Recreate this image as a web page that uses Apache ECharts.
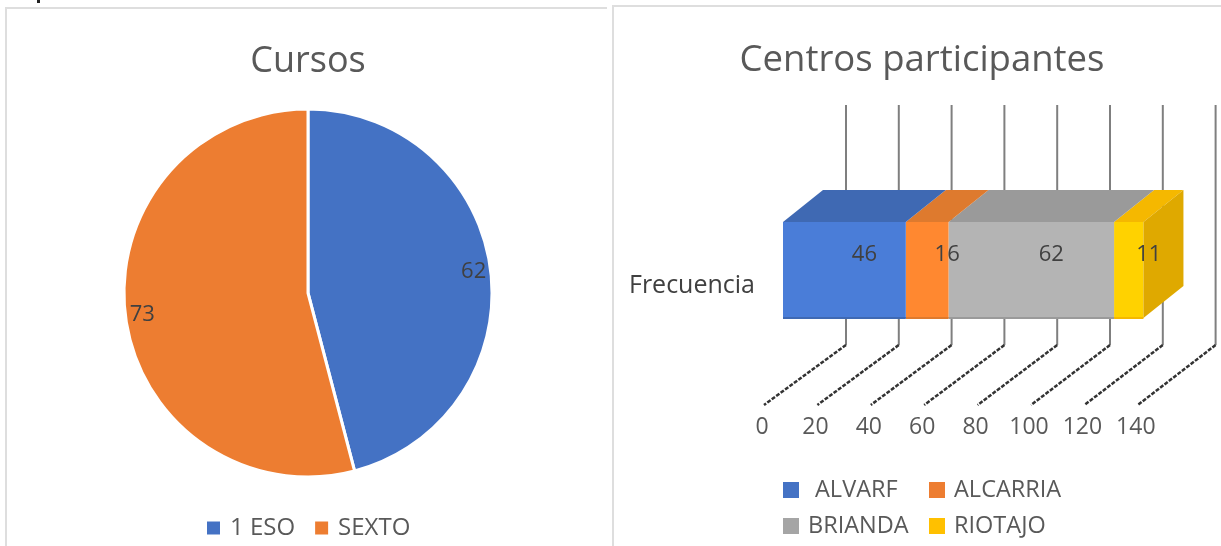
<!DOCTYPE html>
<html>
<head>
<meta charset="utf-8">
<style>html,body{margin:0;padding:0;background:#fff}#main{width:1221px;height:546px}</style>
<script src="https://cdn.jsdelivr.net/npm/echarts@6/dist/echarts.min.js"></script>
</head>
<body>
<div id="main"></div>
<script>
const cursos = ['1 ESO', 'SEXTO'];
const cursosValores = [62, 73];
const centros = ['ALVARF', 'ALCARRIA', 'BRIANDA', 'RIOTAJO'];
const centrosValores = [46, 16, 62, 11];
const categoria = ['Frecuencia'];
const ticks = [0, 20, 40, 60, 80, 100, 120, 140];

const FONT = '"Open Sans"';
const GREY = '#595959';
const colores = ['#4472c4', '#ed7d31', '#a5a5a5', '#ffc000'];
const frente = ['#4a7dd8', '#ff8830', '#b4b4b4', '#ffd200'];
const arriba = ['#3f69b3', '#de7a2e', '#9a9a9a', '#f5b800'];
const lado = '#dfa900';

// la barra 3D se dibuja a mano, los desplazamientos son respecto al eje
const FX = 21, DX = 40, DY = 32;

function renderRejilla(params, api) {
  const v = api.value(0);
  const p = api.coord([v, 0]);
  const x = p[0], c = p[1];
  const xp = x + 84 - v * 0.03;
  return {
    type: 'group',
    children: [
      { type: 'polyline', shape: { points: [[xp, c - 181], [xp, c + 59]] },
        style: { stroke: '#7f7f7f', lineWidth: 2, fill: null } },
      { type: 'line', shape: { x1: xp, y1: c + 59, x2: x + 2, y2: c + 119 },
        style: { stroke: '#333', lineWidth: 2.5, lineDash: [4, 1.5] } }
    ]
  };
}

function renderBloque(params, api) {
  const i = params.seriesIndex - 2;
  const a = api.coord([api.value(0), 0]);
  const b = api.coord([api.value(1), 0]);
  const x0 = a[0] + FX, x1 = b[0] + FX, c = a[1];
  const top = c - 64, bot = c + 32;
  const kids = [
    { type: 'polygon', shape: { points: [[x0, top], [x0 + DX, top - DY], [x1 + DX, top - DY], [x1, top]] },
      style: { fill: arriba[i] } },
    { type: 'rect', shape: { x: x0, y: top, width: x1 - x0, height: bot - top }, style: { fill: frente[i] } },
    { type: 'rect', shape: { x: x0, y: bot - 1, width: x1 - x0, height: 2 }, style: { fill: arriba[i] } }
  ];
  if (i === centros.length - 1) {
    kids.push({ type: 'polygon', shape: { points: [[x1, top], [x1 + DX, top - DY], [x1 + DX, bot - DY], [x1, bot]] },
      style: { fill: lado } });
  }
  kids.push({ type: 'text', style: {
    text: String(centrosValores[i]), x: (x0 + x1) / 2 + 20, y: c - 31,
    align: 'center', verticalAlign: 'middle', fill: '#404040', fontFamily: FONT, fontSize: 22
  } });
  return { type: 'group', children: kids };
}

let acumulado = 0;
const seriesCentros = centros.map(function (n, i) {
  const desde = acumulado;
  acumulado += centrosValores[i];
  return {
    name: n, type: 'custom', z: 8 - i, coordinateSystem: 'cartesian2d',
    renderItem: renderBloque,
    itemStyle: { color: colores[i] },
    encode: { x: [0, 1], y: 2 },
    data: [[desde, acumulado, categoria[0]]]
  };
});

function leyenda(items, left, top, orient, gap, lado, size) {
  return {
    data: items, left: left, top: top, orient: orient, itemGap: gap, padding: 0,
    icon: 'rect', itemWidth: lado, itemHeight: lado,
    textStyle: { color: GREY, fontFamily: FONT, fontSize: size, padding: [0, 0, 0, 4] }
  };
}

const chart = echarts.init(document.getElementById('main'));
chart.setOption({
  animation: false,
  backgroundColor: '#fff',
  title: [
    { text: 'Cursos', left: 303, top: 39, textAlign: 'center',
      textStyle: { color: GREY, fontFamily: FONT, fontSize: 36, fontWeight: 'normal' } },
    { text: 'Centros participantes', left: 917, top: 37, textAlign: 'center',
      textStyle: { color: GREY, fontFamily: FONT, fontSize: 36.5, fontWeight: 'normal' } }
  ],
  legend: [
    leyenda(cursos, 205, 516, 'horizontal', 18, 15, 24),
    leyenda([{ name: centros[0], textStyle: { padding: [0, 0, 0, 11] } }, centros[2]], 783, 478, 'vertical', 12, 16, 23.5),
    leyenda([centros[1], centros[3]], 929, 478, 'vertical', 12, 16, 23.5)
  ],
  grid: { left: 762, width: 373.8, top: 167, height: 238 },
  xAxis: {
    type: 'value', min: 0, max: 140, interval: 20,
    axisLine: { show: false }, axisTick: { show: false }, splitLine: { show: false },
    axisLabel: { color: GREY, fontFamily: FONT, fontSize: 23, margin: 11 }
  },
  yAxis: {
    type: 'category', data: categoria,
    axisLine: { show: false }, axisTick: { show: false },
    axisLabel: { color: '#404040', fontFamily: FONT, fontSize: 25, margin: 7, padding: [4, 0, 0, 0] }
  },
  graphic: [
    { type: 'polyline', shape: { points: [[6, 546], [6, 8], [607, 8]] }, style: { stroke: '#dedede', lineWidth: 2, fill: null } },
    { type: 'polyline', shape: { points: [[613, 546], [613, 6], [1221, 6]] }, style: { stroke: '#dedede', lineWidth: 2, fill: null } },
    { type: 'rect', shape: { x: 37, y: 0, width: 3, height: 3 }, style: { fill: '#222' } }
  ],
  series: [
    {
      type: 'pie', center: [308, 293], radius: 184, startAngle: 90, clockwise: true,
      data: cursos.map(function (n, i) {
        return { name: n, value: cursosValores[i], itemStyle: { color: colores[i] } };
      }),
      itemStyle: { borderColor: '#fff', borderWidth: 3 },
      label: { position: 'inside', formatter: '{c}', color: '#404040', fontFamily: FONT, fontSize: 22 },
      labelLine: { show: false },
      // etiqueta cerca del borde del sector
      labelLayout: function (p) {
        const total = cursosValores.reduce(function (s, v) { return s + v; }, 0);
        const previo = cursosValores.slice(0, p.dataIndex).reduce(function (s, v) { return s + v; }, 0);
        const ang = (previo + cursosValores[p.dataIndex] / 2) / total * 2 * Math.PI;
        const extra = 72;
        return { dx: extra * Math.sin(ang), dy: -extra * Math.cos(ang) };
      },
      emphasis: { disabled: true }
    },
    {
      type: 'custom', coordinateSystem: 'cartesian2d', z: 1, silent: true,
      renderItem: renderRejilla,
      encode: { x: 0, y: 1 },
      data: ticks.map(function (t) { return [t, categoria[0]]; })
    }
  ].concat(seriesCentros)
});
</script>
</body>
</html>
